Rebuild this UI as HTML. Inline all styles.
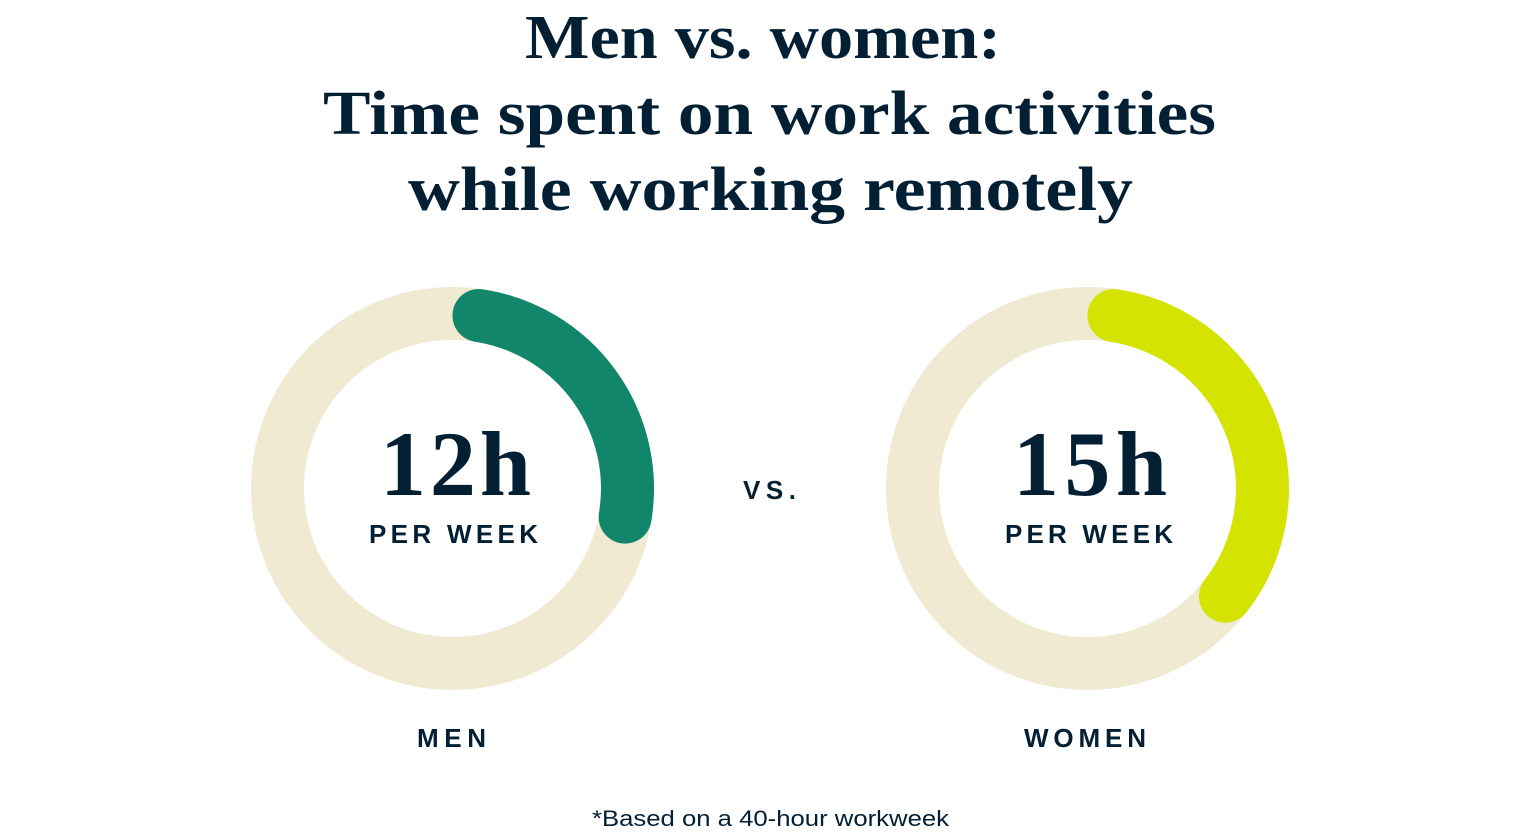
<!DOCTYPE html>
<html>
<head>
<meta charset="utf-8">
<style>
  html, body { margin: 0; padding: 0; background: #ffffff; }
  svg { display: block; }
</style>
</head>
<body>
<svg width="1540" height="840" viewBox="0 0 1540 840" xmlns="http://www.w3.org/2000/svg">
  <rect width="1540" height="840" fill="#ffffff"/>

  <!-- Title -->
  <g font-family="'Liberation Serif', serif" font-weight="bold" font-size="62" fill="#021F33">
    <text x="525" y="58" textLength="476" lengthAdjust="spacingAndGlyphs">Men vs. women:</text>
    <text x="323" y="134" textLength="893" lengthAdjust="spacingAndGlyphs">Time spent on work activities</text>
    <text x="408" y="210" textLength="725" lengthAdjust="spacingAndGlyphs">while working remotely</text>
  </g>

  <!-- Men donut -->
  <circle cx="452.5" cy="488.5" r="175" fill="none" stroke="#EFEAD1" stroke-width="53"/>
  <path d="M 478.97 315.51 A 175 175 0 0 1 625.15 517.08" fill="none" stroke="#11866A" stroke-width="53" stroke-linecap="round"/>

  <!-- Women donut -->
  <circle cx="1087.5" cy="488.5" r="175" fill="none" stroke="#EFEAD1" stroke-width="53"/>
  <path d="M 1113.97 315.51 A 175 175 0 0 1 1225.4 596.2" fill="none" stroke="#D4E400" stroke-width="53" stroke-linecap="round"/>

  <!-- Big numbers -->
  <g font-family="'Liberation Serif', serif" font-weight="bold" font-size="92" fill="#021F33">
    <text x="380" y="495" textLength="151" lengthAdjust="spacing">12h</text>
    <text x="1013" y="495" textLength="154" lengthAdjust="spacing">15h</text>
  </g>

  <!-- Labels -->
  <g font-family="'Liberation Sans', sans-serif" font-weight="bold" font-size="26" fill="#021F33">
    <text x="369" y="543" textLength="169" lengthAdjust="spacing">PER WEEK</text>
    <text x="1005" y="543" textLength="168" lengthAdjust="spacing">PER WEEK</text>
    <text x="743" y="499" textLength="53" lengthAdjust="spacing">VS.</text>
    <text x="417" y="747" textLength="69" lengthAdjust="spacing">MEN</text>
    <text x="1024" y="747" textLength="122" lengthAdjust="spacing">WOMEN</text>
  </g>

  <!-- Footnote -->
  <text x="592" y="826" font-family="'Liberation Sans', sans-serif" font-size="22" fill="#021F33" textLength="357" lengthAdjust="spacingAndGlyphs">*Based on a 40-hour workweek</text>
</svg>
</body>
</html>
